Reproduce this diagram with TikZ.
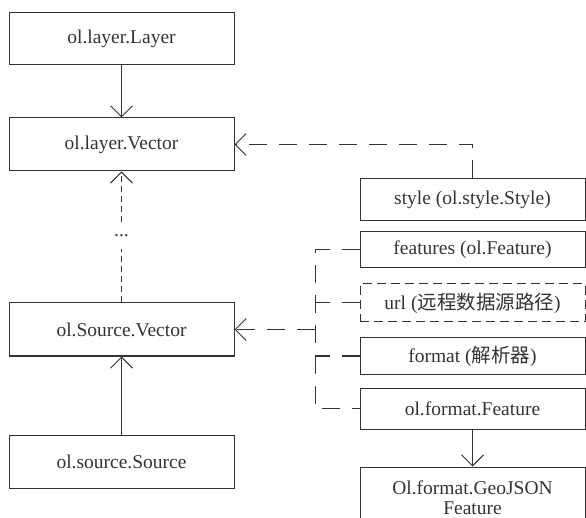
\documentclass[tikz,border=0pt]{standalone}
\usepackage{fontspec}
\setmainfont{Liberation Serif}
\newfontfamily\cjk{Noto Sans CJK SC}
\usetikzlibrary{arrows.meta}
\definecolor{ink}{HTML}{333333}
\tikzset{
  txt/.style={text=ink, font=\fontsize{19.5}{22}\selectfont},
  box/.style={txt, draw=ink, line width=1pt, minimum width=225pt, inner sep=0pt, align=center},
  dbox/.style={box, dash pattern=on 9pt off 5pt},
  conn/.style={draw=ink, line width=1pt},
  arr/.style={conn, -{Straight Barb[length=11pt,width=22pt,line width=1pt]}},
  longdash/.style={dash pattern=on 18pt off 12pt},
  shortdash/.style={dash pattern=on 6pt off 4pt}
}
\begin{document}
\begin{tikzpicture}[x=1pt,y=-1pt]
\path[use as bounding box, clip] (0,0) rectangle (586,518);
% left column
\node[box, minimum height=52pt] (layer) at (121.5,39) {ol.layer.Layer};
\node[box, minimum height=53pt] (vector) at (121.5,144.5) {ol.layer.Vector};
\node[box, minimum height=53pt] (srcvec) at (121.5,329.5) {ol.Source.Vector};
\node[box, minimum height=53pt] (source) at (121.5,461.5) {ol.source.Source};
% right column
\node[box, minimum height=42pt] (style) at (472.5,200) {style (ol.style.Style)};
\node[box, minimum height=36pt] (features) at (472.5,250) {features (ol.Feature)};
\node[dbox, minimum height=38pt] (url) at (472.5,303) {url ({\cjk 远程数据源路径})};
\node[box, minimum height=36pt] (format) at (472.5,356) {format ({\cjk 解析器})};
\node[box, minimum height=41pt] (feat) at (472.5,408.5) {ol.format.Feature};
\node[box, minimum height=62pt] (geo) at (472.5,498) {Ol.format.GeoJSON\\[-2pt]Feature};
% connectors
\draw[arr] (layer.south) -- (vector.north);
\draw[arr] (source.north) -- (srcvec.south);
\draw[arr, shortdash] (srcvec.north) -- (vector.south);
\node[txt, fill=white, inner sep=0pt, minimum width=14pt, minimum height=26pt] (dots) at (121.5,236) {...};
\draw[arr, longdash] (style.north) |- (vector.east);
\coordinate (btop) at (315,250);
\coordinate (bbot) at (315,408.5);
\draw[conn, longdash] (features.west) -- (btop) -- (bbot) -- (feat.west);
\draw[conn, longdash] (url.west) -- (url.west -| btop);
\draw[conn, longdash] (format.west) -- (format.west -| btop);
\draw[arr, longdash] (srcvec.east -| btop) -- (srcvec.east);
\draw[arr] (feat.south) -- (geo.north);
\end{tikzpicture}
\end{document}
